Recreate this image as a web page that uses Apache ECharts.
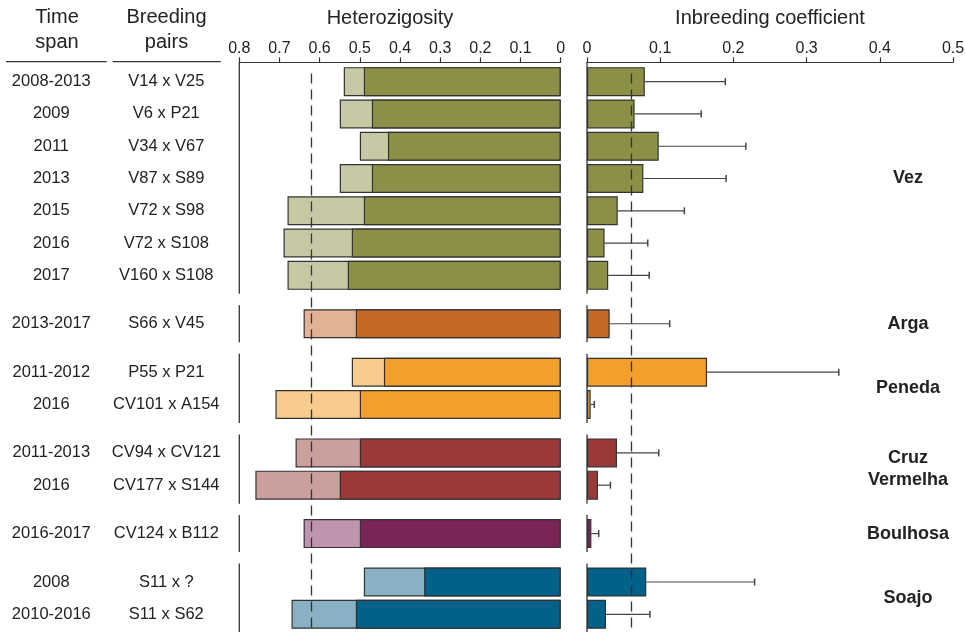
<!DOCTYPE html>
<html><head><meta charset="utf-8">
<script src="https://cdn.jsdelivr.net/npm/echarts@6/dist/echarts.min.js"></script>
<style>html,body{margin:0;padding:0;background:#fff}#c{width:965px;height:632px}</style>
</head><body><div id="c"></div><script>
// ---- data ----
const timeSpans = ['2008-2013','2009','2011','2013','2015','2016','2017','2013-2017','2011-2012','2016','2011-2013','2016','2016-2017','2008','2010-2016'];
const pairs = ['V14 x V25','V6 x P21','V34 x V67','V87 x S89','V72 x S98','V72 x S108','V160 x S108','S66 x V45','P55 x P21','CV101 x A154','CV94 x CV121','CV177 x S144','CV124 x B112','S11 x ?','S11 x S62'];
const populations = ['Vez','Arga','Peneda','Cruz\nVermelha','Boulhosa','Soajo'];
const groupSizes = [7,1,2,2,1,2];
const expectedHet = [0.54,0.55,0.50,0.55,0.68,0.69,0.68,0.64,0.52,0.71,0.66,0.76,0.64,0.49,0.67];
const observedHet = [0.49,0.47,0.43,0.47,0.49,0.52,0.53,0.51,0.44,0.50,0.50,0.55,0.50,0.34,0.51];
const inbreeding = [0.079,0.065,0.098,0.077,0.042,0.024,0.029,0.031,0.164,0.005,0.041,0.015,0.006,0.081,0.026];
const inbreedingUpper = [0.189,0.156,0.217,0.190,0.133,0.083,0.085,0.113,0.344,0.010,0.098,0.032,0.016,0.229,0.086];
const hetThreshold = 0.617;
const inbThreshold = 0.059;
const hetAxisMax = 0.8, inbAxisMax = 0.5, tickStep = 0.1;
const darkColors = ['#8B9046','#C36A28','#F2A02B','#993A39','#7A2556','#00618A'];
const lightColors = ['#C7C9A4','#E1B294','#F8CC8F','#CA9F9C','#C094B0','#88B1C5'];

// ---- layout constants (style) ----
const FONT = '"Liberation Sans", Arial, sans-serif';
const GRID_TOP = 73.6, GRID_H = 564.9, AXIS_OFFSET = 11.3, SEG_EXT = 18.5;
const INK = '#333';

// ---- build category slots ----
const cats = [], rowAtSlot = {}, popAtSlot = {}, segments = [], rowGroup = [];
let r = 0;
groupSizes.forEach((n, g) => {
  if (g > 0) cats.push('gap' + g);
  const start = cats.length;
  for (let k = 0; k < n; k++) {
    rowAtSlot[cats.length] = r; rowGroup.push(g);
    cats.push('row' + r); cats.push('pad' + r); r++;
  }
  popAtSlot[start + n - 1] = populations[g];
  segments.push([0, start, start + 2 * (n - 1)]);
});
const slotData = (fn) => cats.map((c, i) => (i in rowAtSlot) ? fn(rowAtSlot[i]) : '-');

const heData = slotData(k => ({value: expectedHet[k], itemStyle: {color: lightColors[rowGroup[k]]}}));
const hoData = slotData(k => ({value: observedHet[k], itemStyle: {color: darkColors[rowGroup[k]]}}));
const fData = slotData(k => ({value: inbreeding[k], itemStyle: {color: darkColors[rowGroup[k]]}}));
const errData = [];
Object.keys(rowAtSlot).forEach(s => { const k = rowAtSlot[s]; errData.push([inbreeding[k], +s, inbreedingUpper[k]]); });

const segRender = (params, api) => {
  const cs = params.coordSys;
  const y1 = api.coord([0, api.value(1)])[1];
  const y2 = api.coord([0, api.value(2)])[1];
  const top = params.dataIndex === 0 ? cs.y - AXIS_OFFSET : y1 - SEG_EXT;
  return {type: 'line', shape: {x1: cs.x, y1: top, x2: cs.x, y2: y2 + SEG_EXT}, style: {stroke: INK, lineWidth: 1.3}};
};
const barItem = {borderColor: INK, borderWidth: 1.2};
const dashLine = (v) => ({silent: true, symbol: ['none','none'], label: {show: false},
  lineStyle: {type: [10, 6], color: INK, width: 1.3}, emphasis: {disabled: true}, data: [{xAxis: v}]});
const xAx = (gi, max, inverse) => ({gridIndex: gi, type: 'value', min: 0, max: max, interval: tickStep, inverse: inverse,
  position: 'top', offset: AXIS_OFFSET,
  axisLine: {show: true, lineStyle: {color: INK, width: 1.2}},
  axisTick: {show: true, length: 5, lineStyle: {color: INK, width: 1.2}},
  axisLabel: {fontSize: 16, color: '#222', margin: 6, fontFamily: FONT},
  splitLine: {show: false}});

const chart = echarts.init(document.getElementById('c'), null, {renderer: 'canvas'});
chart.setOption({
  animation: false,
  textStyle: {fontFamily: FONT},
  grid: [
    {left: 239.3, right: 404.3, top: GRID_TOP, height: GRID_H, containLabel: false, outerBoundsMode: 'none'},
    {left: 587, right: 12, top: GRID_TOP, height: GRID_H, containLabel: false, outerBoundsMode: 'none'}
  ],
  xAxis: [xAx(0, hetAxisMax, true), xAx(1, inbAxisMax, false)],
  yAxis: [
    {gridIndex: 0, type: 'category', data: cats, inverse: true,
     axisLine: {show: false},
     axisTick: {show: true, alignWithLabel: true, interval: (i) => (i in rowAtSlot), length: 5, lineStyle: {color: INK, width: 1.2}},
     axisLabel: {interval: 0, margin: 8, fontSize: 16.5, color: '#222', fontFamily: FONT,
       formatter: (v, i) => (i in rowAtSlot) ? '{a|' + timeSpans[rowAtSlot[i]] + '}{b|' + pairs[rowAtSlot[i]] + '}' : '',
       rich: {a: {width: 100, align: 'center', fontSize: 16.5, color: '#222', fontFamily: FONT},
              b: {width: 130, align: 'center', fontSize: 16.5, color: '#222', fontFamily: FONT}}},
     splitLine: {show: false}},
    {gridIndex: 1, type: 'category', data: cats, inverse: true,
     axisLine: {show: false}, axisTick: {show: false}, axisLabel: {show: false}, splitLine: {show: false}},
    {gridIndex: 1, type: 'category', data: cats, inverse: true, position: 'right',
     axisLine: {show: false}, axisTick: {show: false}, splitLine: {show: false},
     axisLabel: {interval: 0, margin: -45, align: 'center', fontSize: 18, fontWeight: 'bold', lineHeight: 22,
       color: '#222', fontFamily: FONT, formatter: (v, i) => popAtSlot[i] || ''}}
  ],
  graphic: [
    {type: 'text', x: 57, y: 30, style: {text: 'Time\nspan', fontSize: 20, fontFamily: FONT, fill: '#222', align: 'center', verticalAlign: 'middle', lineHeight: 25}},
    {type: 'text', x: 166.5, y: 30, style: {text: 'Breeding\npairs', fontSize: 20, fontFamily: FONT, fill: '#222', align: 'center', verticalAlign: 'middle', lineHeight: 25}},
    {type: 'text', x: 390, y: 18, style: {text: 'Heterozigosity', fontSize: 20, fontFamily: FONT, fill: '#222', align: 'center', verticalAlign: 'middle'}},
    {type: 'text', x: 770, y: 18, style: {text: 'Inbreeding coefficient', fontSize: 20, fontFamily: FONT, fill: '#222', align: 'center', verticalAlign: 'middle'}},
    {type: 'line', shape: {x1: 6, y1: 61.7, x2: 106.7, y2: 61.7}, style: {stroke: INK, lineWidth: 1.3}},
    {type: 'line', shape: {x1: 112.7, y1: 61.7, x2: 220.7, y2: 61.7}, style: {stroke: INK, lineWidth: 1.3}}
  ],
  series: [
    {type: 'bar', xAxisIndex: 0, yAxisIndex: 0, data: heData, barWidth: 29, barGap: '-100%', clip: false, itemStyle: barItem, silent: true},
    {type: 'bar', xAxisIndex: 0, yAxisIndex: 0, data: hoData, barWidth: 29, barGap: '-100%', clip: false, itemStyle: barItem, silent: true,
     markLine: dashLine(hetThreshold)},
    {type: 'custom', xAxisIndex: 0, yAxisIndex: 0, data: segments, encode: {x: 0, y: [1, 2]}, renderItem: segRender, silent: true, clip: false},
    {type: 'bar', xAxisIndex: 1, yAxisIndex: 1, data: fData, barWidth: 29, clip: false, itemStyle: barItem, silent: true,
     markLine: dashLine(inbThreshold)},
    {type: 'custom', xAxisIndex: 1, yAxisIndex: 1, data: errData, encode: {x: [0, 2], y: 1}, silent: true, clip: false,
     renderItem: (params, api) => {
       const y = api.value(1);
       const p1 = api.coord([api.value(0), y]);
       const p2 = api.coord([api.value(2), y]);
       return {type: 'group', children: [
         {type: 'line', shape: {x1: p1[0], y1: p1[1], x2: p2[0], y2: p2[1]}, style: {stroke: '#444', lineWidth: 1.2}},
         {type: 'line', shape: {x1: p2[0], y1: p2[1] - 3.5, x2: p2[0], y2: p2[1] + 3.5}, style: {stroke: '#444', lineWidth: 1.5}}
       ]};
     }},
    {type: 'custom', xAxisIndex: 1, yAxisIndex: 1, data: segments, encode: {x: 0, y: [1, 2]}, renderItem: segRender, silent: true, clip: false}
  ]
});
</script></body></html>
